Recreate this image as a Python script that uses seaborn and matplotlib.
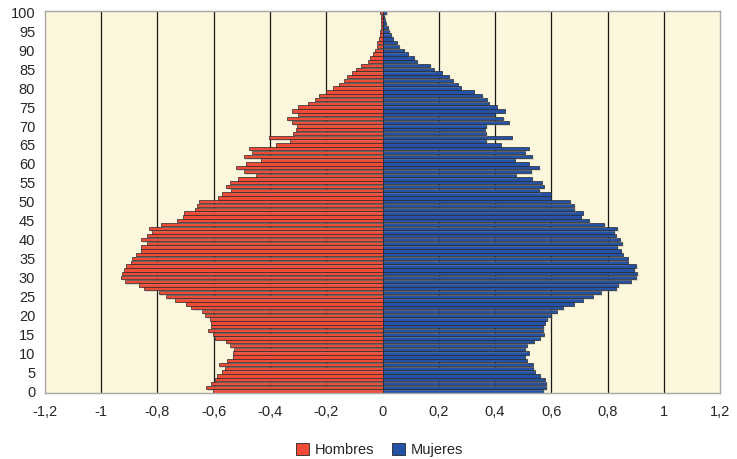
import pandas as pd
import seaborn as sns
import matplotlib.pyplot as plt
from matplotlib.patches import Patch
import matplotlib.patheffects as pe

# Datos de la pirámide (edad 0..100)
edades = list(range(101))
hombres = [-0.604, -0.628, -0.611, -0.596, -0.588, -0.571, -0.560, -0.582, -0.552, -0.533,
           -0.533, -0.529, -0.543, -0.558, -0.596, -0.604, -0.619, -0.611, -0.608, -0.614,
           -0.631, -0.643, -0.680, -0.699, -0.736, -0.770, -0.796, -0.848, -0.866, -0.917,
           -0.930, -0.927, -0.920, -0.913, -0.894, -0.889, -0.878, -0.860, -0.857, -0.839,
           -0.857, -0.836, -0.819, -0.829, -0.786, -0.729, -0.711, -0.707, -0.667, -0.660,
           -0.651, -0.586, -0.571, -0.540, -0.557, -0.541, -0.514, -0.451, -0.493, -0.522,
           -0.486, -0.431, -0.493, -0.465, -0.473, -0.380, -0.330, -0.402, -0.318, -0.308,
           -0.305, -0.323, -0.341, -0.301, -0.323, -0.301, -0.266, -0.240, -0.225, -0.202,
           -0.176, -0.154, -0.137, -0.127, -0.108, -0.093, -0.076, -0.051, -0.043, -0.033,
           -0.027, -0.020, -0.018, -0.012, -0.010, -0.008, -0.006, -0.005, -0.005, -0.005,
           -0.008]
mujeres = [0.570, 0.583, 0.583, 0.577, 0.561, 0.541, 0.536, 0.534, 0.512, 0.506,
           0.520, 0.506, 0.512, 0.537, 0.559, 0.573, 0.570, 0.572, 0.577, 0.586,
           0.599, 0.619, 0.643, 0.680, 0.712, 0.747, 0.776, 0.830, 0.837, 0.882,
           0.901, 0.905, 0.895, 0.901, 0.872, 0.872, 0.854, 0.848, 0.835, 0.851,
           0.846, 0.830, 0.823, 0.835, 0.788, 0.734, 0.706, 0.712, 0.681, 0.681,
           0.666, 0.598, 0.598, 0.557, 0.573, 0.566, 0.531, 0.473, 0.528, 0.557,
           0.520, 0.470, 0.531, 0.506, 0.520, 0.420, 0.369, 0.459, 0.369, 0.363,
           0.369, 0.448, 0.428, 0.399, 0.434, 0.406, 0.377, 0.370, 0.354, 0.324,
           0.278, 0.267, 0.252, 0.236, 0.210, 0.182, 0.170, 0.123, 0.112, 0.092,
           0.076, 0.059, 0.053, 0.037, 0.030, 0.023, 0.020, 0.013, 0.010, 0.007,
           0.012]

x_ticks = [-1.2, -1.0, -0.8, -0.6, -0.4, -0.2, 0, 0.2, 0.4, 0.6, 0.8, 1.0, 1.2]
x_labels = ['-1,2', '-1', '-0,8', '-0,6', '-0,4', '-0,2', '0', '0,2', '0,4', '0,6', '0,8', '1', '1,2']
y_ticks = list(range(0, 101, 5))

df = pd.DataFrame({
    'edad': edades + edades,
    'valor': hombres + mujeres,
    'sexo': ['Hombres'] * len(edades) + ['Mujeres'] * len(edades),
})

colores = {'Hombres': '#F04B37', 'Mujeres': '#2352A6'}

sns.set_style('white')
plt.rcParams['font.family'] = ['Liberation Sans Narrow', 'Liberation Sans', 'DejaVu Sans']

fig = plt.figure(figsize=(7.37, 4.59), dpi=100)
ax = fig.add_axes([0.061, 0.144, 0.916, 0.833])
ax.set_facecolor('#FBF6DC')

# Líneas verticales de la cuadrícula, detrás de las barras
for xt in x_ticks[1:-1]:
    ax.axvline(xt, color='#1a1a1a', lw=0.9, zorder=0)

sns.barplot(data=df, x='valor', y='edad', hue='sexo', orient='h', native_scale=True,
            dodge=False, palette=colores, saturation=1, width=0.88, edgecolor='#262626',
            linewidth=0.5, ax=ax, legend=False, zorder=2)

# Sombra suave bajo las barras
for p in ax.patches:
    p.set_path_effects([pe.SimplePatchShadow(offset=(1.2, -1.2), shadow_rgbFace='#999999', alpha=0.3),
                        pe.Normal()])

ax.set_xlim(-1.2, 1.2)
ax.set_ylim(-0.5, 100.5)
ax.set_xticks(x_ticks)
ax.set_xticklabels(x_labels, fontsize=10.5)
ax.set_yticks(y_ticks)
ax.set_yticklabels([str(v) for v in y_ticks], fontsize=10.5)
ax.tick_params(axis='both', length=0)
ax.tick_params(axis='x', pad=9)
ax.tick_params(axis='y', pad=7)
ax.set_xlabel('')
ax.set_ylabel('')
for s in ax.spines.values():
    s.set_color('#a8a8a8')
    s.set_linewidth(1.0)

# Leyenda abajo
handles = [Patch(facecolor=colores['Hombres'], edgecolor='#262626', linewidth=0.6, label='Hombres'),
           Patch(facecolor=colores['Mujeres'], edgecolor='#262626', linewidth=0.6, label='Mujeres')]
fig.legend(handles=handles, loc='center', bbox_to_anchor=(0.515, 0.02), ncol=2, frameon=False,
           fontsize=10.5, handlelength=0.9, handleheight=0.9, handletextpad=0.4, columnspacing=1.2)

plt.savefig('out.png', dpi=100)
